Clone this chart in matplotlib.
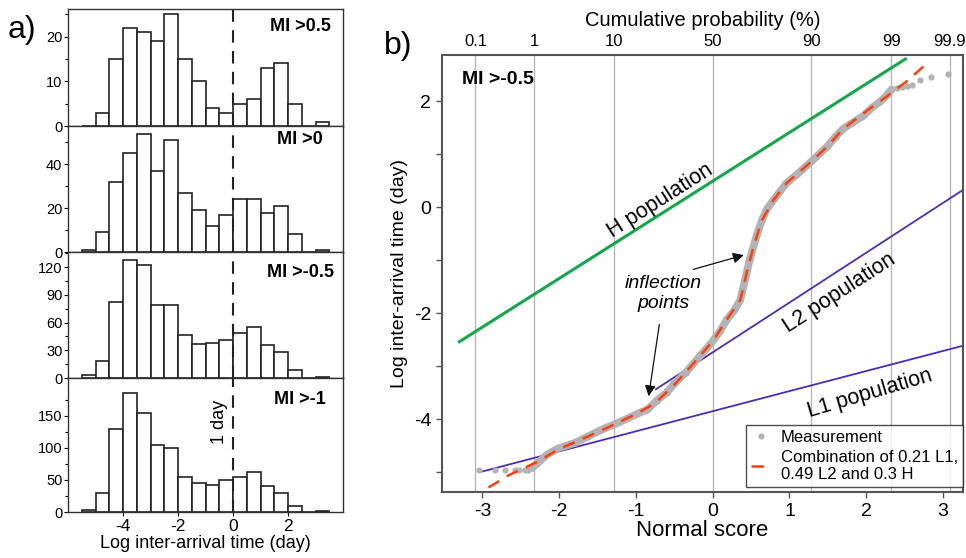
import matplotlib
matplotlib.use("Agg")
import matplotlib.pyplot as plt
import numpy as np

plt.rcParams['font.family'] = ['Liberation Sans', 'DejaVu Sans']
plt.rcParams['axes.unicode_minus'] = False

# ---- a) histograms of log inter-arrival time ----

bin_left = [-5.5, -5.0, -4.5, -4.0, -3.5, -3.0, -2.5, -2.0, -1.5,
            -1.0, -0.5, 0.0, 0.5, 1.0, 1.5, 2.0, 2.5, 3.0]

counts_mi05 = [0, 3, 15, 22, 21, 19, 25, 15, 10, 4, 3, 5, 6, 13, 14, 5, 0, 1]
counts_mi0 = [1, 9, 32, 45, 54, 37, 51, 27, 19, 12, 17, 24, 24, 18, 21, 8, 0, 1]
counts_mim05 = [3, 18, 82, 128, 122, 79, 79, 47, 37, 38, 41, 49, 55, 36, 28, 9, 0, 1]
counts_mim1 = [3, 29, 130, 186, 154, 104, 100, 55, 45, 42, 50, 55, 62, 41, 30, 9, 0, 1]

hist_labels = ["MI >0.5", "MI >0", "MI >-0.5", "MI >-1"]

# ---- b) normal probability plot ----

prob_labels = ["0.1", "1", "10", "50", "90", "99", "99.9"]
prob_z = [-3.090, -2.326, -1.282, 0.0, 1.282, 2.326, 3.090]

meas_x = [-3.04, -2.83, -2.70, -2.58, -2.52, -2.45, -2.40,
          -2.35, -2.29, -2.15, -2.01, -1.80, -1.63, -1.45, -1.25, -1.10,
          -0.97, -0.85, -0.73, -0.60, -0.50, -0.35, -0.25, -0.10, 0.01,
          0.10, 0.18, 0.28, 0.36, 0.40, 0.44, 0.48, 0.53, 0.58, 0.64,
          0.70, 0.79, 0.88, 0.96, 1.10, 1.23, 1.35, 1.49, 1.60, 1.70,
          1.85, 1.96, 2.08, 2.18, 2.26, 2.33,
          2.40, 2.46, 2.53, 2.60, 2.70, 2.84, 3.07]
meas_y = [-4.95, -4.95, -4.95, -4.95, -4.95, -4.95, -4.95,
          -4.92, -4.84, -4.66, -4.55, -4.45, -4.33, -4.20, -4.08, -3.98,
          -3.89, -3.82, -3.65, -3.50, -3.33, -3.12, -2.95, -2.70, -2.51,
          -2.33, -2.13, -1.95, -1.75, -1.50, -1.25, -1.00, -0.75, -0.50, -0.25,
          -0.05, 0.13, 0.30, 0.45, 0.62, 0.79, 0.95, 1.14, 1.33, 1.48,
          1.62, 1.72, 1.88, 1.99, 2.10, 2.22,
          2.25, 2.26, 2.28, 2.30, 2.40, 2.45, 2.51]

combo_x = [-2.92, -2.66, -2.29, -2.01, -1.63, -1.25, -0.97, -0.75, -0.50,
           -0.25, 0.01, 0.18, 0.36, 0.44, 0.53, 0.64, 0.79, 0.96, 1.23,
           1.49, 1.70, 2.02, 2.26, 2.55, 2.81]
combo_y = [-5.29, -5.06, -4.81, -4.57, -4.33, -4.08, -3.88, -3.70, -3.35,
           -2.95, -2.51, -2.13, -1.75, -1.25, -0.75, -0.25, 0.13, 0.45, 0.79,
           1.14, 1.48, 1.83, 2.08, 2.40, 2.74]

# population lines: (x start, x end, intercept, slope)
h_line = (-3.30, 2.51, 0.49, 0.918)
l2_line = (-0.74, 3.27, -2.74, 0.94)
l1_line = (-3.00, 3.30, -3.85, 0.379)


W, H = 966, 558
fig = plt.figure(figsize=(W / 100, H / 100), dpi=100)

# left column: four stacked histograms
bounds = [(9.3, 126), (126, 252), (252, 378), (378, 512)]
all_counts = [counts_mi05, counts_mi0, counts_mim05, counts_mim1]
ylims = [26.1, 57.5, 136.5, 209]
majors = [[0, 10, 20], [0, 20, 40], [0, 30, 60, 90, 120], [0, 50, 100, 150]]
minors = [[5, 15, 25], [10, 30, 50], [15, 45, 75, 105, 135], [25, 75, 125, 175]]
label_y = [0.85, 0.89, 0.84, 0.836]

for i, (top, bot) in enumerate(bounds):
    ax = fig.add_axes([68 / W, 1 - bot / H, 275 / W, (bot - top) / H])
    ax.bar(bin_left, all_counts[i], width=0.5, align='edge',
           color='white', edgecolor='#222222', linewidth=1.2)
    ax.axvline(0, color='#222222', lw=1.5, dashes=(6, 4))
    ax.set_xlim(-6, 4)
    ax.set_ylim(0, ylims[i])
    ax.set_yticks(majors[i])
    ax.set_yticks(minors[i], minor=True)
    ax.tick_params(axis='y', labelsize=10.5, length=3, width=0.8, pad=1)
    ax.tick_params(axis='y', which='minor', length=2, width=0.8)
    ax.text(0.844, label_y[i], hist_labels[i], transform=ax.transAxes,
            ha='center', va='center', fontsize=13, fontweight='bold')
    for s in ax.spines.values():
        s.set_color('#333333')
        s.set_linewidth(1.0)
    if i < 3:
        ax.set_xticks([])
    else:
        ax.set_xticks([-4, -2, 0, 2])
        ax.tick_params(axis='x', labelsize=12.5, length=3, width=0.8, pad=2)
        ax.set_xlabel("Log inter-arrival time (day)", fontsize=13, labelpad=1)
        ax.text(-0.48, 140, "1 day", rotation=90, ha='center', va='center',
                fontsize=13)

fig.text(22 / W, 1 - 30 / H, "a)", fontsize=23, ha='center', va='center')
fig.text(398 / W, 1 - 46 / H, "b)", fontsize=23, ha='center', va='center')

# right: normal probability plot
axb = fig.add_axes([441.7 / W, 1 - 492.3 / H, (963 - 441.7) / W, (492.3 - 55) / H])
axb.set_xlim(-3.53, 3.26)
axb.set_ylim(-5.38, 2.87)

for z in prob_z:
    axb.axvline(z, color='#b8b8b8', lw=1.0, zorder=0)

for (x0, x1, b, m), col, lw in [(h_line, '#14a84b', 2.2),
                                (l2_line, '#4a2db8', 1.3),
                                (l1_line, '#4a2db8', 1.3)]:
    xs = np.array([x0, x1])
    axb.plot(xs, b + m * xs, color=col, lw=lw, zorder=2)

mx = np.array(meas_x)
my = np.array(meas_y)
axb.plot(mx[7:51], my[7:51], color='#b3b3b3', lw=5.5, solid_capstyle='round',
         zorder=3)
axb.plot(mx, my, 'o', color='#b3b3b3', ms=4.5, mew=0, zorder=3,
         label="Measurement")
axb.plot(combo_x, combo_y, color='#ff3d0d', lw=1.8, dashes=(5, 3.5), zorder=4,
         label="Combination of 0.21 L1,\n0.49 L2 and 0.3 H")

axb.text(-0.68, 0.12, "H population", rotation=32.5, ha='center', va='center',
         fontsize=15.5, rotation_mode='anchor')
axb.text(1.65, -1.63, "L2 population", rotation=33, ha='center', va='center',
         fontsize=15.5, rotation_mode='anchor')
axb.text(2.05, -3.52, "L1 population", rotation=16.5, ha='center', va='center',
         fontsize=15.5, rotation_mode='anchor')
axb.text(-0.64, -1.63, "inflection\npoints", style='italic', ha='center',
         va='center', fontsize=14, linespacing=1.2)
axb.annotate("", xy=(0.44, -0.89), xytext=(-0.29, -1.19),
             arrowprops=dict(arrowstyle='-|>', color='#111111', lw=0.9,
                             mutation_scale=16))
axb.annotate("", xy=(-0.84, -3.62), xytext=(-0.69, -2.16),
             arrowprops=dict(arrowstyle='-|>', color='#111111', lw=0.9,
                             mutation_scale=16))
axb.text(-3.27, 2.4, "MI >-0.5", fontsize=14, fontweight='bold',
         ha='left', va='center')

axb.set_xticks([-3, -2, -1, 0, 1, 2, 3])
axb.set_yticks([-4, -2, 0, 2])
axb.set_yticks([-5, -3, -1, 1], minor=True)
axb.tick_params(axis='both', labelsize=14, length=4, width=1.0, color='#555555')
axb.tick_params(axis='y', which='minor', length=4, width=1.0, color='#555555')
axb.set_xlabel("Normal score", fontsize=16, labelpad=0)
axb.set_ylabel("Log inter-arrival time (day)", fontsize=14, labelpad=4)
for s in axb.spines.values():
    s.set_color('#555555')
    s.set_linewidth(1.5)

top = axb.twiny()
top.set_xlim(axb.get_xlim())
top.set_xticks(prob_z)
top.set_xticklabels(prob_labels)
top.tick_params(axis='x', length=0, labelsize=12, pad=4)
top.set_xlabel("Cumulative probability (%)", fontsize=14.5, labelpad=6)
for s in top.spines.values():
    s.set_visible(False)

leg = axb.legend(loc='lower right', bbox_to_anchor=(1.0, 0.011),
                 borderaxespad=0, fontsize=12, frameon=True, fancybox=False,
                 edgecolor='#222222', handlelength=1.2, handletextpad=0.6,
                 borderpad=0.3, labelspacing=0.3)
leg.get_frame().set_linewidth(1.0)

fig.savefig("out.png", dpi=100)
